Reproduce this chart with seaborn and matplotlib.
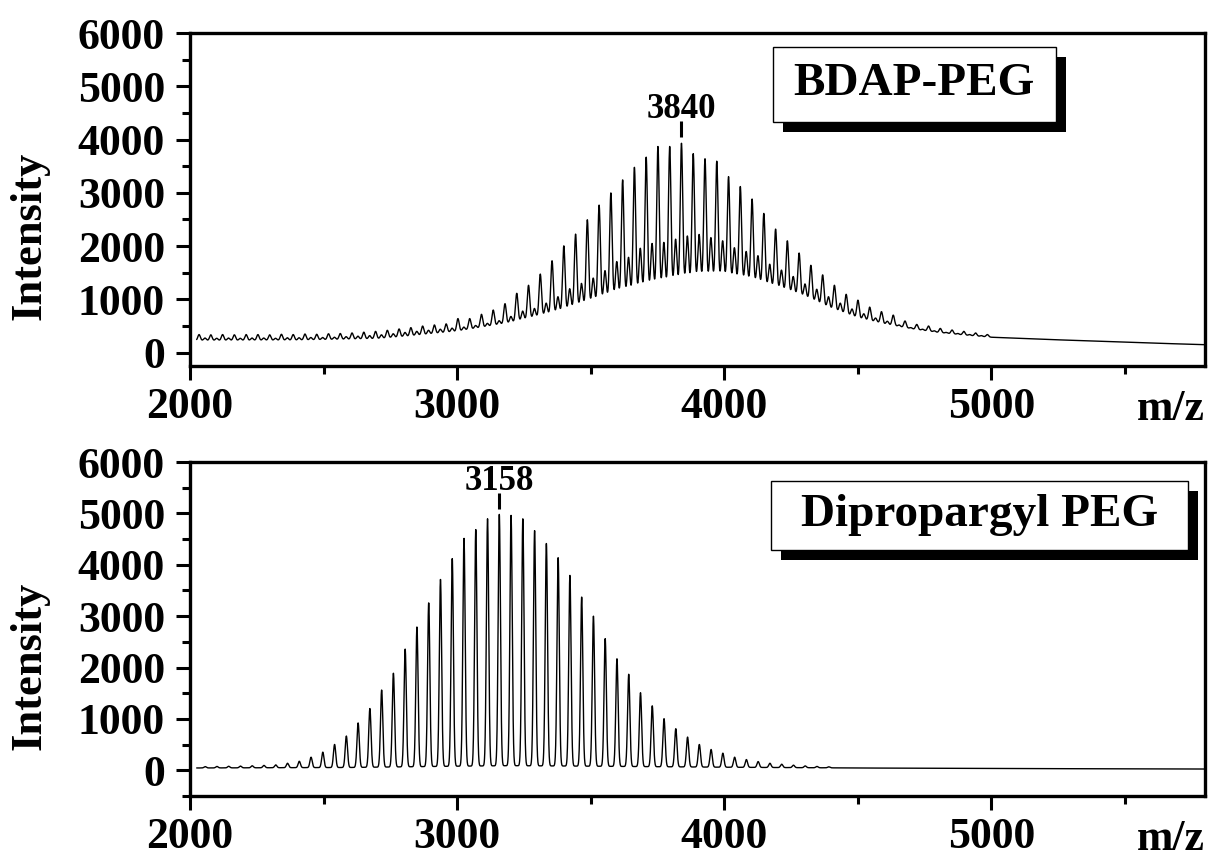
import numpy as np
import pandas as pd
import matplotlib
matplotlib.use("Agg")
import matplotlib.pyplot as plt
import seaborn as sns
from matplotlib.patches import Rectangle
from matplotlib.ticker import MultipleLocator

# ---------------- data ----------------
PEG_UNIT = 44.05          # Da, ethylene-oxide repeat

# top panel: BDAP-PEG
bdap_name = "BDAP-PEG"
bdap_label_mz = 3840
bdap_main_index = list(range(-41, 27))
bdap_main_heights = [340, 335, 340, 335, 340, 340, 335, 345,
                     340, 350, 345, 355, 360, 370, 385, 400, 420,
                     445, 470, 500, 520, 540, 640, 640, 720, 800,
                     920, 1115, 1265, 1475, 1725, 2005, 2225, 2495, 2770,
                     3000, 3245, 3480, 3670, 3870, 3870, 3930,
                     3735, 3640, 3595, 3305, 3120, 2885, 2615, 2320, 2100,
                     1870, 1640, 1460, 1265, 1095, 985, 855, 770, 705,
                     595, 530, 500, 455, 425, 400, 370, 340]
bdap_minor_offset = 22
bdap_minor_index = list(range(-41, 26))
bdap_minor_heights = [275, 270, 275, 270, 275, 275, 270, 280, 280, 285, 285, 290, 300, 310, 320, 335, 355,
                      380, 400, 420, 440, 460, 480, 510, 550, 600,
                      680, 780, 830, 930, 1050, 1200, 1300, 1400, 1540,
                      1710, 1790, 1960, 2050, 2070, 2130, 2190,
                      2220, 2160, 2100, 1970, 1900, 1820, 1660, 1550, 1430,
                      1290, 1190, 1050, 930, 820, 730, 650, 590, 520,
                      470, 440, 410, 380, 360, 340, 320]
bdap_base_mz = [2000, 2400, 2700, 2800, 3000, 3200, 3400, 3600, 3800, 3900, 4000, 4100, 4200,
                4300, 4400, 4500, 4600, 4700, 4800, 4900, 5000, 5200, 5400, 5600, 5800]
bdap_base_int = [230, 235, 260, 300, 400, 560, 780, 1080, 1280, 1370, 1400, 1330, 1200,
                 1040, 820, 650, 540, 450, 380, 330, 290, 250, 215, 180, 150]

# bottom panel: Dipropargyl PEG
dipro_name = "Dipropargyl PEG"
dipro_label_mz = 3158
dipro_index = list(range(-26, 29))
dipro_heights = [70, 72, 75, 78, 82, 88, 95, 105, 137,
                 176, 255, 353, 503, 667, 922, 1202, 1562, 1889,
                 2359, 2790, 3261, 3719, 4124, 4516, 4686, 4895, 4980,
                 4961, 4895, 4667, 4418, 4144, 3797, 3373, 3000, 2562,
                 2170, 1869, 1510, 1255, 1006, 810, 647, 503, 405,
                 333, 255, 209, 170, 137, 118, 100, 85, 75, 68]
dipro_base_mz = [2000, 2600, 3000, 3200, 3500, 4000, 4500, 5000, 5800]
dipro_base_int = [45, 55, 80, 90, 80, 60, 45, 35, 25]

x_ticks_major = 1000
y_ticks_major = 1000

# ---------------- build the spectra ----------------
grid = np.arange(2025, 5800.5, 0.5)


def spectrum(centers, heights, base_mz, base_int, sigma):
    centers = np.asarray(centers, float)
    heights = np.asarray(heights, float)
    base = np.interp(grid, base_mz, base_int)
    amp = np.clip(heights - np.interp(centers, base_mz, base_int), 0, None)
    prof = (amp[:, None] * np.exp(-0.5 * ((grid[None, :] - centers[:, None]) / sigma) ** 2)).sum(0)
    return base + prof


bdap_main_mz = bdap_label_mz + PEG_UNIT * np.array(bdap_main_index)
bdap_minor_mz = bdap_label_mz + bdap_minor_offset + PEG_UNIT * np.array(bdap_minor_index)
dipro_mz = dipro_label_mz + PEG_UNIT * np.array(dipro_index)

top_y = spectrum(np.r_[bdap_main_mz, bdap_minor_mz], bdap_main_heights + bdap_minor_heights,
                 bdap_base_mz, bdap_base_int, 4.6)
bot_y = spectrum(dipro_mz, dipro_heights, dipro_base_mz, dipro_base_int, 4.3)

df_top = pd.DataFrame({"mz": grid, "Intensity": top_y})
df_bot = pd.DataFrame({"mz": grid, "Intensity": bot_y})

# ---------------- style ----------------
sns.set_theme(style="white")
plt.rcParams["font.family"] = ["Liberation Serif", "DejaVu Serif"]
plt.rcParams["font.weight"] = "bold"
plt.rcParams["axes.labelweight"] = "bold"

W, H = 1212, 861
fig = plt.figure(figsize=(W / 100, H / 100), dpi=100)
fig.patch.set_facecolor("white")
ax1 = fig.add_axes([190 / W, 1 - 366 / H, 1015 / W, 333 / H])
ax2 = fig.add_axes([190 / W, 1 - 796 / H, 1015 / W, 334 / H])


def style_axes(ax, df, ylo, name, box, label_mz, peak_h):
    sns.lineplot(data=df, x="mz", y="Intensity", ax=ax, color="black", linewidth=1.0,
                 estimator=None, sort=False)
    ax.set_xlim(2000, 5800)
    ax.set_ylim(ylo, 6000)
    ax.xaxis.set_major_locator(MultipleLocator(x_ticks_major))
    ax.xaxis.set_minor_locator(MultipleLocator(x_ticks_major / 2))
    ax.yaxis.set_major_locator(MultipleLocator(y_ticks_major))
    ax.yaxis.set_minor_locator(MultipleLocator(y_ticks_major / 2))
    for s in ax.spines.values():
        s.set_linewidth(2.4)
        s.set_color("black")
        s.set_visible(True)
    ax.tick_params(which="both", direction="out", top=False, right=False,
                   left=True, bottom=True, color="black", width=2.2)
    ax.tick_params(which="major", length=10, labelsize=31.5, labelcolor="black")
    ax.tick_params(axis="y", which="major", pad=8)
    ax.tick_params(axis="x", which="major", pad=5)
    ax.tick_params(which="minor", length=6)
    ax.set_xlabel("")
    ax.set_ylabel("Intensity", fontsize=32, fontweight="bold", color="black")
    ax.yaxis.set_label_coords(-0.138, 0.39)
    ax.annotate("m/z", xy=(1.0, 0.0), xycoords="axes fraction", xytext=(0, -16.5),
                textcoords="offset points", ha="right", va="top", fontsize=31.5,
                fontweight="bold", color="black")
    # label box with shadow
    x0, x1, y0, y1 = box
    dx, dy = 10 / 1015, -10 / 333
    ax.add_patch(Rectangle((x0 + dx, y0 + dy), x1 - x0, y1 - y0, transform=ax.transAxes,
                           facecolor="black", edgecolor="black", lw=0, zorder=5, clip_on=False))
    ax.add_patch(Rectangle((x0, y0), x1 - x0, y1 - y0, transform=ax.transAxes,
                           facecolor="white", edgecolor="black", lw=1.0, zorder=6, clip_on=False))
    ax.text((x0 + x1) / 2, (y0 + y1) / 2, name, transform=ax.transAxes, ha="center",
            va="center", fontsize=34, fontweight="bold", color="black", zorder=7)
    # peak label
    ax.plot([label_mz, label_mz], [peak_h + 110, peak_h + 420], color="black", lw=2.2,
            solid_capstyle="butt")
    ax.text(label_mz, peak_h + 470, str(label_mz), ha="center", va="baseline",
            fontsize=25, fontweight="bold", color="black")


style_axes(ax1, df_top, -250, bdap_name, (0.574, 0.853, 0.733, 0.958), bdap_label_mz,
           max(bdap_main_heights))
style_axes(ax2, df_bot, -500, dipro_name, (0.572, 0.983, 0.737, 0.943), dipro_label_mz,
           max(dipro_heights))

fig.savefig("out.png", dpi=100, facecolor="white")
